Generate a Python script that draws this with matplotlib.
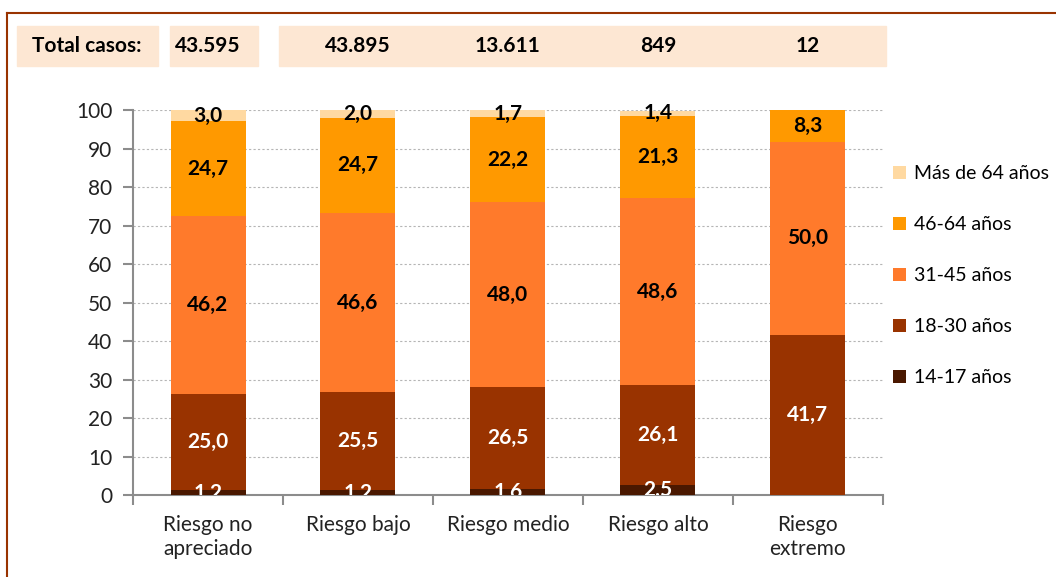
import matplotlib.pyplot as plt
import matplotlib.patches as patches
import matplotlib.transforms as mtransforms
from matplotlib.lines import Line2D
import numpy as np

plt.rcParams['font.family'] = ['Lato', 'DejaVu Sans']

categories = ['Riesgo no\napreciado', 'Riesgo bajo', 'Riesgo medio', 'Riesgo alto', 'Riesgo\nextremo']
total_casos = ['43.595', '43.895', '13.611', '849', '12']

series_names = ['14-17 años', '18-30 años', '31-45 años', '46-64 años', 'Más de 64 años']
v_14_17 = [1.2, 1.2, 1.6, 2.5, 0]
v_18_30 = [25.0, 25.5, 26.5, 26.1, 41.7]
v_31_45 = [46.2, 46.6, 48.0, 48.6, 50.0]
v_46_64 = [24.7, 24.7, 22.2, 21.3, 8.3]
v_mas_64 = [3.0, 2.0, 1.7, 1.4, 0]

colors = ['#4A1800', '#993300', '#FF7A2B', '#FF9900', '#FFD9A1']
label_colors = ['white', 'white', 'black', 'black', 'black']

fig = plt.figure(figsize=(10.56, 5.77), dpi=100)
ax = fig.add_axes([0.126, 0.142, 0.710, 0.667])

x = np.arange(len(categories))
bottom = np.zeros(len(categories))
for i, (name, vals, col, lc) in enumerate(zip(series_names,
                                              [v_14_17, v_18_30, v_31_45, v_46_64, v_mas_64],
                                              colors, label_colors)):
    vals = np.array(vals)
    ax.bar(x, vals, 0.5, bottom=bottom, color=col, label=name, zorder=3)
    for xi, b, v in zip(x, bottom, vals):
        if v > 0:
            ax.text(xi, b + v / 2, f'{v:.1f}'.replace('.', ','), ha='center', va='center',
                    fontsize=15, fontweight='bold', color=lc, zorder=4, clip_on=(i == 0))
    bottom += vals

ax.set_xlim(-0.5, len(categories) - 0.5)
ax.set_ylim(0, 100)
ax.set_yticks(range(0, 101, 10))
ax.set_xticks(x)
ax.set_xticklabels(categories, fontsize=15, color='#222222', linespacing=1.25)
ax.set_xticks(np.arange(-0.5, len(categories), 1), minor=True)
ax.tick_params(axis='x', which='major', length=0, pad=14)
ax.tick_params(axis='x', which='minor', length=7, width=1.5, color='#8c8c8c')
ax.tick_params(axis='y', length=7, width=1.5, color='#8c8c8c', labelsize=15,
               labelcolor='#222222', pad=8)
ax.grid(axis='y', linestyle=(0, (2, 2)), color='#b5b5b5', linewidth=0.8, zorder=0)
for s in ['top', 'right']:
    ax.spines[s].set_visible(False)
for s in ['left', 'bottom']:
    ax.spines[s].set_color('#8c8c8c')
    ax.spines[s].set_linewidth(1.5)

h, l = ax.get_legend_handles_labels()
ax.legend(h[::-1], l[::-1], loc='center left', bbox_to_anchor=(1.003, 0.57),
          frameon=False, fontsize=14, handlelength=0.7, handleheight=0.7,
          labelspacing=1.75, handletextpad=0.4, borderaxespad=0)

# header boxes
box_color = '#FDE7D3'
fh, fw = 577, 1056
for x0, x1 in [(17, 158), (170, 258), (279, 886)]:
    fig.add_artist(patches.Rectangle((x0 / fw, 1 - 66 / fh), (x1 - x0) / fw, 40 / fh,
                                     transform=fig.transFigure, color=box_color, zorder=-1))
fig.text(87 / fw, 1 - 46 / fh, 'Total casos:', ha='center', va='center',
         fontsize=15, fontweight='bold')
hdr = mtransforms.blended_transform_factory(ax.transData, fig.transFigure)
for xi, t in zip(x, total_casos):
    fig.text(xi, 1 - 46 / fh, t, transform=hdr, ha='center', va='center',
             fontsize=15, fontweight='bold')

# outer frame lines
fig.add_artist(Line2D([7 / fw, 1], [1 - 13 / fh, 1 - 13 / fh], color='#993300', linewidth=1.5))
fig.add_artist(Line2D([7 / fw, 7 / fw], [0, 1 - 13 / fh], color='#993300', linewidth=1.5))

fig.savefig('out.png', dpi=100)
